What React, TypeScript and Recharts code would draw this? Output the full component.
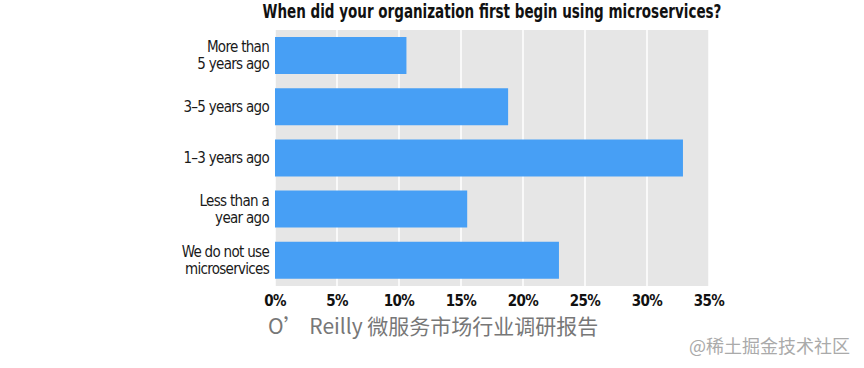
import React from "react";
import { BarChart, Bar, XAxis, YAxis, CartesianGrid } from "recharts";

const categories = [
  "More than\n5 years ago",
  "3–5 years ago",
  "1–3 years ago",
  "Less than a\nyear ago",
  "We do not use\nmicroservices",
];
const shares = [10.6, 18.8, 32.9, 15.5, 22.9];
const xTicks = [0, 5, 10, 15, 20, 25, 30, 35];
const titleText = "When did your organization first begin using microservices?";
const footerText = "O’ Reilly 微服务市场行业调研报告";
const watermarkText = "@稀土掘金技术社区";

const data = categories.map((c, i) => ({ name: c, value: shares[i] }));

const FONT = "'Liberation Sans Narrow', 'DejaVu Sans Condensed', 'Roboto', sans-serif";

const YTick = (props: any) => {
  const { x, y, payload } = props;
  const lines = String(payload.value).split("\n");
  const lh = 17;
  const start = -((lines.length - 1) * lh) / 2;
  return (
    <text x={x} y={y} textAnchor="end" fill="#1a1a1a" fontSize={15} fontFamily={FONT} letterSpacing={-0.7}>
      {lines.map((l, i) => (
        <tspan key={i} x={x} y={y + start + i * lh} dy="0.35em">
          {l}
        </tspan>
      ))}
    </text>
  );
};

export default function App() {
  return (
    <div style={{ position: "absolute", left: 0, top: 0, width: 864, height: 368, background: "#fff" }}>
      <div
        style={{
          position: "absolute",
          left: 0,
          width: 984,
          top: 0,
          textAlign: "center",
          fontFamily: FONT,
          fontWeight: 700,
          fontSize: 19,
          color: "#111",
          transform: "scaleX(0.79)",
          transformOrigin: "492px 0",
          whiteSpace: "nowrap",
        }}
      >
        {titleText}
      </div>
      <BarChart
        width={864}
        height={368}
        data={data}
        layout="vertical"
        margin={{ top: 30, right: 155, bottom: 52, left: 0 }}
        barCategoryGap={7}
      >
        <CartesianGrid horizontal={false} vertical={true} fill="#e6e6e6" stroke="#ffffff" strokeWidth={1.5} />
        <XAxis
          type="number"
          domain={[0, 35]}
          ticks={xTicks}
          tickFormatter={(v: number) => `${v}%`}
          axisLine={false}
          tickLine={false}
          height={30}
          tickMargin={3}
          tick={{ fill: "#111", fontSize: 15, fontFamily: FONT, fontWeight: 600, letterSpacing: -0.6 }}
        />
        <YAxis
          type="category"
          dataKey="name"
          width={275}
          axisLine={false}
          tickLine={false}
          tickMargin={0}
          tick={<YTick />}
        />
        <Bar dataKey="value" fill="#479ff5" barSize={37} isAnimationActive={false} />
      </BarChart>
      <div
        style={{
          position: "absolute",
          left: 268,
          top: 310,
          fontFamily: "'Noto Sans CJK SC', sans-serif",
          fontSize: 21,
          color: "#777",
          whiteSpace: "nowrap",
        }}
      >
        {footerText}
      </div>
      <div
        style={{
          position: "absolute",
          left: 689,
          top: 332,
          fontFamily: "'Noto Sans CJK SC', sans-serif",
          fontSize: 18,
          color: "#aaa",
          whiteSpace: "nowrap",
        }}
      >
        {watermarkText}
      </div>
    </div>
  );
}
